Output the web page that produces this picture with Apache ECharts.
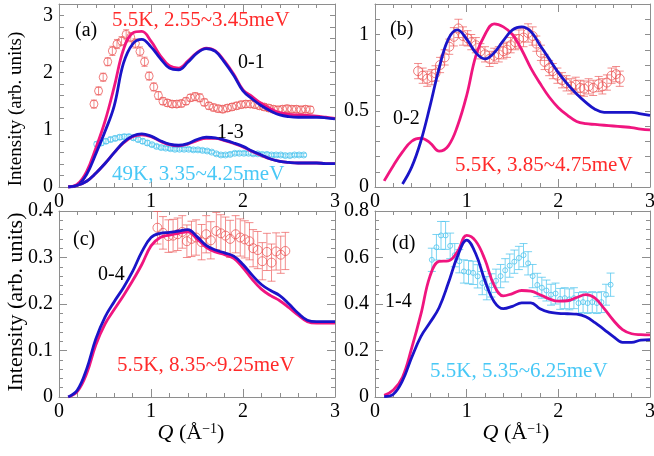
<!DOCTYPE html>
<html>
<head>
<meta charset="utf-8">
<title>Intensity vs Q</title>
<script src="https://cdn.jsdelivr.net/npm/echarts@6/dist/echarts.min.js"></script>
<style>html,body{margin:0;padding:0;background:#fff}#main{width:654px;height:456px}</style>
</head>
<body>
<div id="main"></div>
<script>
// Q grid of the calculated curves
var qLine = [0.1,0.2,0.3,0.4,0.5,0.6,0.7,0.8,0.9,1.0,1.1,1.2,1.3,1.4,1.5,1.6,1.7,1.8,1.9,2.0,2.1,2.2,2.3,2.4,2.5,2.6,2.7,2.8,2.9,3.0];

// (a) 0-1 and 1-3
var aPink01 = [0,0.05,0.27,0.68,1.15,1.75,2.4,2.69,2.72,2.55,2.3,2.12,2.08,2.2,2.35,2.43,2.38,2.2,1.97,1.7,1.58,1.46,1.37,1.3,1.27,1.26,1.25,1.24,1.22,1.2];
var aBlue01 = [0,0.03,0.22,0.58,0.97,1.42,2.16,2.5,2.58,2.45,2.25,2.08,2.05,2.18,2.34,2.42,2.37,2.18,1.95,1.68,1.54,1.42,1.33,1.26,1.23,1.22,1.22,1.22,1.21,1.19];
var aPink13 = [0,0.03,0.1,0.24,0.41,0.6,0.77,0.88,0.91,0.88,0.8,0.74,0.72,0.75,0.81,0.85,0.85,0.81,0.76,0.7,0.62,0.55,0.49,0.45,0.43,0.42,0.42,0.42,0.41,0.41];
var aBlue13 = [0,0.03,0.1,0.24,0.41,0.6,0.78,0.89,0.93,0.89,0.81,0.75,0.73,0.76,0.83,0.87,0.86,0.82,0.77,0.71,0.63,0.56,0.49,0.45,0.43,0.42,0.42,0.42,0.41,0.41];
var qRedA = [0.38,0.43,0.48,0.53,0.58,0.63,0.68,0.73,0.78,0.83,0.88,0.93,0.98,1.03,1.08,1.13,1.18,1.23,1.28,1.33,1.38,1.43,1.48,1.53,1.58,1.63,1.68,1.73,1.78,1.83,1.88,1.93,1.98,2.03,2.08,2.13,2.18,2.23,2.28,2.33,2.38,2.43,2.48,2.53,2.58,2.63,2.68,2.73];
var redA = [1.45,1.68,1.92,2.19,2.38,2.50,2.55,2.67,2.62,2.51,2.37,2.19,1.94,1.75,1.60,1.50,1.47,1.45,1.45,1.46,1.50,1.56,1.58,1.56,1.48,1.42,1.39,1.37,1.36,1.38,1.40,1.42,1.44,1.45,1.45,1.44,1.42,1.40,1.38,1.36,1.35,1.36,1.37,1.36,1.36,1.35,1.36,1.35];
var errRedA = [0.07,0.07,0.07,0.07,0.08,0.08,0.08,0.08,0.08,0.08,0.08,0.08,0.07,0.07,0.07,0.06,0.06,0.06,0.06,0.06,0.06,0.06,0.07,0.07,0.06,0.06,0.06,0.06,0.06,0.06,0.06,0.06,0.06,0.06,0.06,0.06,0.06,0.06,0.06,0.06,0.06,0.06,0.06,0.06,0.06,0.06,0.06,0.06];
var qCyanA = [0.41,0.46,0.51,0.56,0.61,0.66,0.71,0.76,0.81,0.86,0.91,0.96,1.01,1.06,1.11,1.16,1.21,1.26,1.31,1.36,1.41,1.46,1.51,1.56,1.61,1.66,1.71,1.76,1.81,1.86,1.91,1.96,2.01,2.06,2.11,2.16,2.21,2.26,2.31,2.36,2.41,2.46,2.51,2.56,2.61,2.66];
var cyanA = [0.75,0.77,0.80,0.83,0.85,0.87,0.88,0.88,0.86,0.83,0.80,0.77,0.74,0.71,0.69,0.68,0.67,0.66,0.66,0.66,0.66,0.65,0.65,0.64,0.63,0.61,0.58,0.56,0.56,0.57,0.59,0.59,0.59,0.59,0.58,0.58,0.57,0.57,0.56,0.56,0.56,0.55,0.55,0.56,0.56,0.56];
var errCyanA = [0.04,0.04,0.04,0.04,0.04,0.04,0.04,0.04,0.04,0.04,0.04,0.04,0.03,0.03,0.03,0.03,0.03,0.03,0.03,0.03,0.03,0.03,0.03,0.03,0.03,0.03,0.03,0.03,0.03,0.03,0.03,0.03,0.03,0.03,0.03,0.03,0.03,0.03,0.03,0.03,0.03,0.03,0.03,0.03,0.03,0.03];

// (b) 0-2
var bPink = [0.04,0.14,0.23,0.3,0.32,0.29,0.235,0.27,0.4,0.6,0.86,1.0,1.07,1.05,1.0,0.9,0.78,0.68,0.59,0.52,0.47,0.43,0.415,0.41,0.405,0.4,0.395,0.39,0.38,0.375];
var bBlue = [null,null,0.02,0.13,0.3,0.53,0.78,0.97,1.03,0.97,0.88,0.84,0.88,0.96,1.03,1.05,1.02,0.93,0.84,0.75,0.675,0.61,0.555,0.51,0.49,0.49,0.49,0.49,0.48,0.47];
var qRedB = [0.47,0.52,0.57,0.62,0.66,0.71,0.76,0.81,0.86,0.91,0.96,1.01,1.05,1.10,1.15,1.20,1.25,1.30,1.35,1.40,1.44,1.48,1.53,1.57,1.62,1.67,1.72,1.76,1.81,1.85,1.90,1.94,1.99,2.04,2.09,2.14,2.19,2.24,2.28,2.33,2.38,2.44,2.48,2.53,2.58,2.63,2.67];
var redB = [0.76,0.73,0.71,0.72,0.745,0.80,0.85,0.92,0.985,1.04,0.99,0.975,0.95,0.93,0.89,0.87,0.84,0.86,0.87,0.89,0.90,0.93,0.95,0.97,0.98,1.01,0.99,0.94,0.88,0.82,0.78,0.76,0.73,0.70,0.68,0.66,0.67,0.65,0.645,0.66,0.65,0.675,0.66,0.685,0.73,0.74,0.71];
var errRedB = [0.05,0.05,0.05,0.05,0.05,0.05,0.05,0.05,0.06,0.06,0.06,0.05,0.05,0.05,0.05,0.05,0.05,0.05,0.05,0.05,0.05,0.05,0.05,0.06,0.06,0.06,0.06,0.05,0.05,0.05,0.05,0.05,0.05,0.05,0.05,0.05,0.05,0.05,0.05,0.05,0.05,0.05,0.05,0.05,0.05,0.05,0.05];

// (c) 0-4
var cPink = [0,0.012,0.05,0.112,0.157,0.188,0.218,0.25,0.285,0.325,0.343,0.348,0.352,0.355,0.34,0.322,0.312,0.306,0.298,0.278,0.253,0.232,0.218,0.207,0.192,0.176,0.162,0.159,0.159,0.159];
var cBlue = [0,0.015,0.06,0.125,0.172,0.205,0.235,0.27,0.312,0.343,0.352,0.354,0.357,0.36,0.345,0.326,0.316,0.31,0.303,0.285,0.262,0.242,0.229,0.218,0.2,0.18,0.165,0.162,0.162,0.162];
var qRedC = [1.07,1.13,1.19,1.24,1.29,1.34,1.39,1.44,1.49,1.55,1.60,1.65,1.71,1.76,1.81,1.86,1.92,1.97,2.02,2.07,2.11,2.16,2.21,2.26,2.31,2.36,2.41,2.46];
var redC = [0.364,0.353,0.346,0.347,0.350,0.355,0.335,0.340,0.343,0.333,0.350,0.337,0.357,0.352,0.347,0.340,0.350,0.343,0.339,0.335,0.320,0.316,0.292,0.312,0.289,0.313,0.306,0.314];
var errRedC = [0.035,0.035,0.035,0.035,0.035,0.035,0.035,0.038,0.038,0.038,0.04,0.04,0.04,0.04,0.04,0.04,0.04,0.04,0.04,0.04,0.04,0.04,0.04,0.04,0.04,0.04,0.04,0.04];

// (d) 1-4
var dPink = [0.007,0.03,0.085,0.21,0.355,0.52,0.583,0.585,0.625,0.695,0.67,0.59,0.48,0.435,0.445,0.458,0.455,0.44,0.422,0.412,0.414,0.428,0.44,0.425,0.38,0.33,0.29,0.272,0.268,0.267];
var dBlue = [0.002,0.012,0.07,0.17,0.26,0.32,0.385,0.49,0.605,0.675,0.615,0.5,0.41,0.38,0.39,0.405,0.405,0.38,0.365,0.36,0.358,0.356,0.345,0.32,0.29,0.26,0.235,0.235,0.245,0.247];
var qCyanD = [0.62,0.67,0.72,0.77,0.82,0.87,0.92,0.97,1.02,1.07,1.12,1.17,1.22,1.27,1.32,1.37,1.42,1.47,1.52,1.57,1.62,1.67,1.72,1.77,1.82,1.87,1.92,1.97,2.02,2.07,2.12,2.17,2.22,2.27,2.32,2.37,2.42,2.47,2.52,2.57];
var cyanD = [0.59,0.644,0.695,0.695,0.65,0.61,0.584,0.54,0.537,0.534,0.519,0.49,0.468,0.48,0.50,0.52,0.545,0.565,0.582,0.598,0.61,0.575,0.52,0.482,0.47,0.458,0.44,0.445,0.422,0.425,0.42,0.425,0.404,0.408,0.404,0.408,0.404,0.408,0.44,0.483];
var errCyanD = [0.05,0.055,0.06,0.06,0.055,0.05,0.05,0.05,0.05,0.05,0.05,0.05,0.05,0.05,0.05,0.05,0.05,0.05,0.05,0.05,0.05,0.05,0.05,0.05,0.045,0.045,0.045,0.045,0.045,0.045,0.045,0.045,0.045,0.045,0.045,0.045,0.045,0.045,0.045,0.05];

var FONT = 'Liberation Serif';
var PINK = '#f0157f', BLUE = '#1a14c8';
var RED = '#ec5c5c', CYAN = '#4ec4ee';
var FRAME = '#8e8e8e';

function pairs(q, v, e) {
    var out = [];
    for (var i = 0; i < q.length; i++) {
        if (v[i] == null) continue;
        out.push(e ? [q[i], v[i], e[i]] : [q[i], v[i]]);
    }
    return out;
}

var grids = [
    {left: 59, top: 4, width: 276, height: 183, outerBoundsMode: 'none'},
    {left: 375, top: 4, width: 275, height: 183, outerBoundsMode: 'none'},
    {left: 59, top: 211, width: 276, height: 186, outerBoundsMode: 'none'},
    {left: 375, top: 211, width: 275, height: 186, outerBoundsMode: 'none'}
];

function showInt(v) { return Math.abs(v - Math.round(v)) < 1e-6 ? String(Math.round(v)) : ''; }
function showHalf(v) { return Math.abs(v * 2 - Math.round(v * 2)) < 1e-6 ? String(+v.toFixed(1)) : ''; }
function plain(v) { return String(+v.toFixed(2)); }

var ySpec = [
    {max: 3.2, interval: 0.2, minor: false, fmt: showInt},
    {max: 1.2, interval: 0.1, minor: false, fmt: showHalf},
    {max: 0.4, interval: 0.1, minor: true, fmt: plain},
    {max: 0.8, interval: 0.2, minor: true, fmt: plain}
];

var xAxes = [], yAxes = [];
grids.forEach(function (g, i) {
    ['bottom', 'top'].forEach(function (pos) {
        xAxes.push({
            type: 'value', gridIndex: i, position: pos, min: 0, max: 3, interval: 1,
            axisLine: {show: true, onZero: false, lineStyle: {color: FRAME, width: 1}},
            axisTick: {show: true, inside: true, length: 8, lineStyle: {color: FRAME}},
            minorTick: {show: true, splitNumber: 5, length: 4, lineStyle: {color: FRAME}},
            splitLine: {show: false},
            axisLabel: {show: pos === 'bottom', color: '#000', fontFamily: FONT, fontSize: 20, margin: 5}
        });
    });
    var s = ySpec[i];
    ['left', 'right'].forEach(function (pos) {
        yAxes.push({
            type: 'value', gridIndex: i, position: pos, min: 0, max: s.max, interval: s.interval,
            axisLine: {show: true, onZero: false, lineStyle: {color: FRAME, width: 1}},
            axisTick: {show: true, inside: true, length: s.minor ? 8 : 5, lineStyle: {color: FRAME}},
            minorTick: {show: s.minor, splitNumber: 5, length: 4, lineStyle: {color: FRAME}},
            splitLine: {show: false},
            axisLabel: {show: pos === 'left', color: '#000', fontFamily: FONT, fontSize: 20, margin: 6, formatter: s.fmt}
        });
    });
});

function curve(gi, vals, color) {
    return {
        type: 'line', xAxisIndex: gi * 2, yAxisIndex: gi * 2, data: pairs(qLine, vals),
        smooth: 0.4, symbol: 'none', clip: true, z: 4,
        lineStyle: {color: color, width: 2.8}
    };
}

function points(gi, q, v, color, size) {
    return {
        type: 'scatter', xAxisIndex: gi * 2, yAxisIndex: gi * 2, data: pairs(q, v),
        symbol: 'circle', symbolSize: size, z: 3, clip: true,
        itemStyle: {color: 'rgba(0,0,0,0)', borderColor: color, borderWidth: 1}
    };
}

function errorBars(gi, q, v, e, color, cap) {
    return {
        type: 'custom', xAxisIndex: gi * 2, yAxisIndex: gi * 2, data: pairs(q, v, e),
        encode: {x: 0, y: 1}, clip: true, z: 2,
        renderItem: function (params, api) {
            var x = api.value(0), y = api.value(1), d = api.value(2);
            var hi = api.coord([x, y + d]), lo = api.coord([x, y - d]);
            var st = {stroke: color, lineWidth: 1};
            return {
                type: 'group',
                children: [
                    {type: 'line', shape: {x1: hi[0], y1: hi[1], x2: lo[0], y2: lo[1]}, style: st},
                    {type: 'line', shape: {x1: hi[0] - cap, y1: hi[1], x2: hi[0] + cap, y2: hi[1]}, style: st},
                    {type: 'line', shape: {x1: lo[0] - cap, y1: lo[1], x2: lo[0] + cap, y2: lo[1]}, style: st}
                ]
            };
        }
    };
}

var redBar = 'rgba(236,92,92,0.7)', cyanBar = 'rgba(78,196,238,0.75)';

var series = [
    errorBars(0, qRedA, redA, errRedA, redBar, 3),
    points(0, qRedA, redA, RED, 8),
    errorBars(0, qCyanA, cyanA, errCyanA, cyanBar, 2.5),
    points(0, qCyanA, cyanA, CYAN, 6),
    curve(0, aPink01, PINK), curve(0, aBlue01, BLUE),
    curve(0, aPink13, PINK), curve(0, aBlue13, BLUE),

    errorBars(1, qRedB, redB, errRedB, redBar, 4),
    points(1, qRedB, redB, RED, 9),
    curve(1, bPink, PINK), curve(1, bBlue, BLUE),

    errorBars(2, qRedC, redC, errRedC, redBar, 4),
    points(2, qRedC, redC, RED, 9),
    curve(2, cPink, PINK), curve(2, cBlue, BLUE),

    errorBars(3, qCyanD, cyanD, errCyanD, cyanBar, 4),
    points(3, qCyanD, cyanD, CYAN, 5),
    curve(3, dPink, PINK), curve(3, dBlue, BLUE)
];

function label(x, y, text, color, size) {
    return {
        type: 'text', x: x, y: y, z: 10,
        style: {text: text, fill: color, fontFamily: FONT, fontSize: size, align: 'left', verticalAlign: 'middle'}
    };
}

function yTitle(x, y, size) {
    return {
        type: 'text', x: x, y: y, rotation: Math.PI / 2, z: 10,
        style: {text: 'Intensity (arb. units)', fill: '#000', fontFamily: FONT, fontSize: size, align: 'center', verticalAlign: 'middle'}
    };
}

function xTitle(x, y) {
    return {
        type: 'text', x: x, y: y, z: 10,
        style: {
            text: '{i|Q} {n|(Å}{s|−1}{n|)}', align: 'center', verticalAlign: 'middle',
            fontFamily: FONT, fontSize: 22, fill: '#000',
            rich: {
                i: {fontFamily: FONT, fontSize: 22, fontStyle: 'italic', fill: '#000'},
                n: {fontFamily: FONT, fontSize: 22, fill: '#000'},
                s: {fontFamily: FONT, fontSize: 14, fill: '#000', verticalAlign: 'top'}
            }
        }
    };
}

var graphics = [
    yTitle(16, 109, 19), yTitle(16, 302, 22),
    xTitle(191, 433), xTitle(516, 433),
    label(75, 31, '(a)', '#000', 20),
    label(112, 20, '5.5K, 2.55~3.45meV', '#ff2a2a', 21),
    label(238, 63, '0-1', '#000', 20),
    label(217, 133, '1-3', '#000', 20),
    label(112, 174, '49K, 3.35~4.25meV', '#48c8f6', 21),
    label(390, 30, '(b)', '#000', 20),
    label(393, 119, '0-2', '#000', 20),
    label(455, 165, '5.5K, 3.85~4.75meV', '#ff2a2a', 21),
    label(73, 240, '(c)', '#000', 20),
    label(98, 275, '0-4', '#000', 20),
    label(117, 365, '5.5K, 8.35~9.25meV', '#ff2a2a', 21),
    label(392, 244, '(d)', '#000', 20),
    label(385, 302, '1-4', '#000', 20),
    label(430, 371, '5.5K, 5.35~6.25meV', '#48c8f6', 21)
];

var myChart = echarts.init(document.getElementById('main'), null, {renderer: 'canvas'});
myChart.setOption({
    animation: false,
    backgroundColor: '#fff',
    grid: grids,
    xAxis: xAxes,
    yAxis: yAxes,
    series: series,
    graphic: graphics
});
</script>
</body>
</html>
